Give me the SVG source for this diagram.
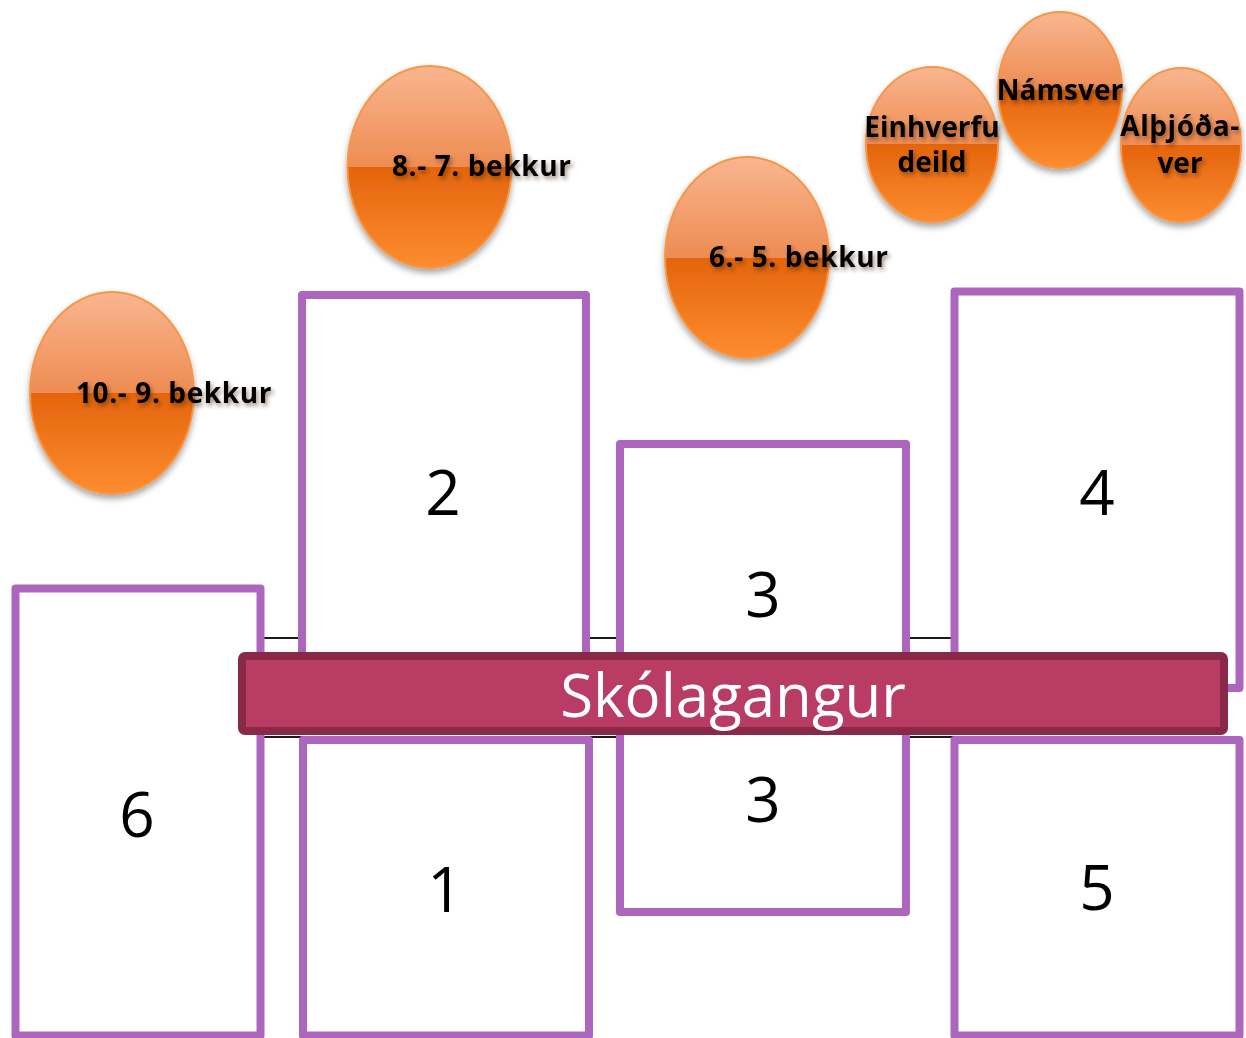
<svg xmlns="http://www.w3.org/2000/svg" width="1246" height="1038" viewBox="0 0 1246 1038">
  <defs>
    <linearGradient id="ball" x1="0" y1="0" x2="0" y2="1">
      <stop offset="0" stop-color="#f9b690"/>
      <stop offset="0.5" stop-color="#ee8c52"/>
      <stop offset="0.5" stop-color="#e4640c"/>
      <stop offset="1" stop-color="#fd8d30"/>
    </linearGradient>
    <filter id="ballShadow" x="-20%" y="-20%" width="140%" height="140%">
      <feDropShadow dx="0" dy="4" stdDeviation="3" flood-color="#000" flood-opacity="0.35"/>
    </filter>
    <filter id="textShadow" x="-10%" y="-30%" width="120%" height="160%">
      <feDropShadow dx="2" dy="3" stdDeviation="2" flood-color="#3a1a00" flood-opacity="0.5"/>
    </filter>
    <style>
      .room { fill: #ffffff; stroke: #ad66bd; stroke-width: 8; stroke-linejoin: round; }
      .num { font-family: "Open Sans", "DejaVu Sans", sans-serif; font-size: 62px; fill: #000; text-anchor: middle; }
      .wall { stroke: #1a1a1a; stroke-width: 2; fill: none; }
      .ball { fill: url(#ball); stroke: #f79646; stroke-width: 2; filter: url(#ballShadow); }
      .lbl { font-family: "Open Sans", "DejaVu Sans", sans-serif; font-weight: bold; font-size: 28px; fill: #000; filter: url(#textShadow); }
      .wide { letter-spacing: 0.6px; }
      .lblc { text-anchor: middle; }
      .hall { fill: #b93c65; stroke: #8a2848; stroke-width: 8; }
      .hallText { font-family: "Open Sans", "DejaVu Sans", sans-serif; font-size: 60px; fill: #ffffff; text-anchor: middle; }
    </style>
  </defs>

  <!-- corridor wall lines -->
  <g id="connectors">
    <line class="wall" x1="250" y1="638" x2="960" y2="638"/>
    <line class="wall" x1="250" y1="737" x2="960" y2="737"/>
  </g>

  <!-- classroom blocks -->
  <g id="room-6">
    <rect class="room" x="15.5" y="588.5" width="245" height="447"/>
    <text class="num" x="137" y="837">6</text>
  </g>
  <g id="room-2">
    <rect class="room" x="302" y="295" width="284" height="400"/>
    <text class="num" x="443" y="515">2</text>
  </g>
  <g id="room-1">
    <rect class="room" x="303" y="740" width="286" height="295.5"/>
    <text class="num" x="445" y="912">1</text>
  </g>
  <g id="room-3-upper">
    <rect class="room" x="620" y="444" width="286" height="256"/>
    <text class="num" x="763" y="617">3</text>
  </g>
  <g id="room-3-lower">
    <rect class="room" x="620" y="690" width="286" height="222"/>
    <text class="num" x="763" y="822">3</text>
  </g>
  <g id="room-4">
    <rect class="room" x="954.5" y="291.5" width="285" height="396.5"/>
    <text class="num" x="1097" y="515">4</text>
  </g>
  <g id="room-5">
    <rect class="room" x="954.5" y="740" width="285" height="295.5"/>
    <text class="num" x="1097" y="910">5</text>
  </g>

  <!-- main corridor -->
  <g id="corridor">
    <rect class="hall" x="242" y="656" width="982" height="75" rx="3"/>
    <text class="hallText" x="733" y="717">Skólagangur</text>
  </g>

  <!-- grade groups and departments -->
  <g id="grade-10-9">
    <ellipse class="ball" cx="112" cy="393" rx="82" ry="101"/>
    <text class="lbl wide" x="76" y="403">10.- 9. bekkur</text>
  </g>
  <g id="grade-8-7">
    <ellipse class="ball" cx="429.5" cy="167" rx="82" ry="101"/>
    <text class="lbl wide" x="392" y="176">8.- 7. bekkur</text>
  </g>
  <g id="grade-6-5">
    <ellipse class="ball" cx="747" cy="257.5" rx="82" ry="100.5"/>
    <text class="lbl wide" x="709" y="267">6.- 5. bekkur</text>
  </g>
  <g id="einhverfudeild">
    <ellipse class="ball" cx="932" cy="144.5" rx="66" ry="77.5"/>
    <text class="lbl lblc" x="932" y="137">Einhverfu</text>
    <text class="lbl lblc" x="932" y="172">deild</text>
  </g>
  <g id="namsver">
    <ellipse class="ball" cx="1060" cy="90" rx="62" ry="78"/>
    <text class="lbl lblc" x="1060" y="100">Námsver</text>
  </g>
  <g id="althjodaver">
    <ellipse class="ball" cx="1181" cy="145" rx="60" ry="77"/>
    <text class="lbl lblc wide" x="1180" y="136">Alþjóða-</text>
    <text class="lbl lblc" x="1180" y="173">ver</text>
  </g>
</svg>
